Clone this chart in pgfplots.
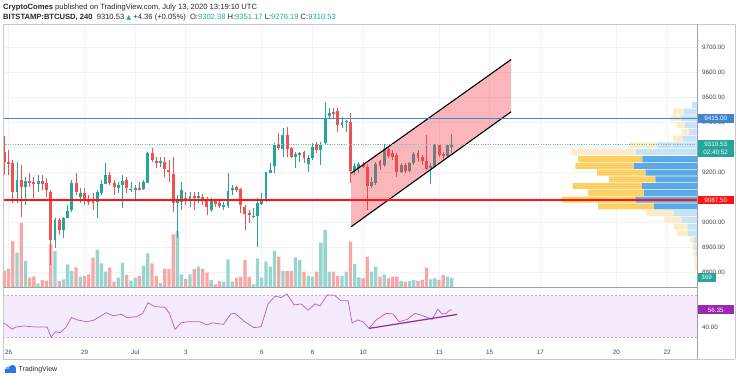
\documentclass[border=0pt]{standalone}
\usepackage{pgfplots}
\pgfplotsset{compat=1.18}
\usepackage{pgfplotstable}
\usepackage{fontspec}
\setmainfont{Liberation Sans}
\newfontfamily\symfont{DejaVu Sans}

\definecolor{upc}{RGB}{38,166,154}
\definecolor{dnc}{RGB}{239,83,80}
\definecolor{upv}{RGB}{152,213,206}
\definecolor{dnv}{RGB}{247,168,166}
\definecolor{vpdb}{RGB}{90,170,234}
\definecolor{vpdy}{RGB}{252,208,98}
\definecolor{vplb}{RGB}{200,226,246}
\definecolor{vply}{RGB}{253,236,202}
\definecolor{blueline}{RGB}{66,133,204}
\definecolor{redline}{RGB}{255,20,20}
\definecolor{gridc}{RGB}{240,242,248}
\definecolor{framec}{RGB}{200,200,204}
\definecolor{axc}{RGB}{160,160,165}
\definecolor{txt}{RGB}{70,70,75}
\definecolor{hdr}{RGB}{40,40,45}
\definecolor{rsil}{RGB}{180,100,205}
\definecolor{rsitrend}{RGB}{140,45,150}
\definecolor{rsiband}{RGB}{244,232,252}
\definecolor{rsidash}{RGB}{200,165,215}
\definecolor{rsibox}{RGB}{156,39,176}
\definecolor{chanfill}{RGB}{242,54,69}
\definecolor{tvblue}{RGB}{41,120,230}
\definecolor{tvlight}{RGB}{120,180,250}
\definecolor{dotc}{RGB}{110,200,190}

\pgfplotstableread{
i O H L C V
1 9281 9345 9188 9241 652
2 9237 9288 9188 9235 720
3 9235 9248 9075 9121 1840
4 9121 9241 9075 9168 1372
5 9168 9228 9021 9141 2560
6 9141 9181 9068 9164 1040
7 9164 9195 9141 9157 372
8 9157 9181 9095 9153 412
9 9153 9188 9121 9164 148
10 9164 9188 9128 9153 280
11 9153 9175 9101 9128 252
12 9121 9128 8828 8928 1708
13 8928 9015 8895 9008 1440
14 9008 9015 8948 8968 240
15 8968 9021 8935 9015 308
16 9017 9068 9015 9041 908
17 9048 9168 9041 9155 640
18 9155 9195 9108 9121 788
19 9101 9135 9075 9115 412
20 9115 9135 9068 9088 440
21 9088 9108 9068 9081 508
22 9084 9115 9048 9079 1172
23 9081 9128 9015 9117 1480
24 9117 9168 9108 9151 948
25 9155 9235 9151 9188 612
26 9188 9199 9148 9159 772
27 9155 9168 9108 9141 212
28 9137 9161 9115 9145 372
29 9151 9188 9057 9164 972
30 9168 9181 9115 9135 480
31 9128 9159 9121 9132 252
32 9132 9148 9088 9135 372
33 9135 9159 9128 9129 440
34 9132 9168 9128 9161 840
35 9159 9281 9155 9275 1348
36 9275 9297 9241 9248 948
37 9241 9261 9215 9235 440
38 9235 9261 9221 9241 160
39 9241 9261 9181 9215 720
40 9205 9248 9161 9199 720
41 9192 9261 9041 9075 2108
42 9079 9108 8935 9084 2240
43 9081 9161 9048 9128 508
44 9097 9121 9068 9092 320
45 9088 9121 9061 9105 508
46 9101 9121 9048 9097 720
47 9097 9121 9075 9103 812
48 9101 9111 9068 9084 720
49 9084 9101 9028 9061 572
50 9048 9095 9041 9081 280
51 9081 9088 9061 9071 108
52 9075 9084 9055 9065 240
53 9061 9081 9048 9068 212
54 9064 9195 9055 9124 1108
55 9128 9148 9108 9135 212
56 9139 9145 9121 9128 372
57 9131 9135 9035 9068 412
58 9061 9068 8968 9035 1080
59 9037 9048 8995 9028 400
60 9021 9055 9015 9024 108
61 9024 9095 8901 9075 1148
62 9075 9115 9068 9084 372
63 9084 9201 9079 9197 1012
64 9197 9235 9195 9208 812
65 9225 9315 9195 9308 1440
66 9308 9355 9288 9297 1212
67 9295 9375 9261 9348 640
68 9348 9381 9261 9295 640
69 9295 9301 9255 9261 640
70 9261 9281 9217 9271 1188
71 9271 9279 9241 9275 1080
72 9279 9284 9235 9257 612
73 9235 9268 9201 9257 440
74 9257 9315 9248 9301 412
75 9311 9321 9275 9288 612
76 9288 9321 9228 9308 1772
77 9315 9479 9308 9415 2280
78 9425 9455 9415 9435 612
79 9441 9455 9415 9435 612
80 9444 9455 9361 9391 440
81 9391 9421 9375 9401 440
82 9401 9408 9361 9404 612
83 9401 9435 9155 9204 1812
84 9204 9235 9188 9221 920
85 9217 9241 9195 9232 388
86 9231 9241 9215 9221 348
87 9221 9231 9048 9145 1212
88 9145 9181 9135 9159 612
89 9155 9241 9148 9231 812
90 9241 9248 9208 9225 412
91 9228 9311 9221 9292 508
92 9292 9301 9255 9265 348
93 9275 9288 9248 9261 412
94 9268 9275 9181 9201 412
95 9201 9235 9195 9225 240
96 9228 9235 9195 9204 212
97 9204 9241 9199 9235 240
98 9235 9281 9228 9271 280
99 9275 9288 9241 9255 240
100 9257 9268 9228 9244 280
101 9244 9348 9208 9212 772
102 9215 9235 9151 9221 308
103 9221 9311 9215 9305 348
104 9305 9308 9261 9268 280
105 9271 9281 9248 9265 480
106 9265 9311 9255 9305 412
107 9302 9351 9276 9311 369
}\candles

\pgfplotstableread{
p lb db ly dy
9468 5 0 0 0
9441 13.3 0 10.7 0
9414 15.7 0 11 0
9387 12.3 0 8.3 0
9360 8 0 7.7 0
9333 14 0 10 0
9306 40 0 27.3 0
9279 61.3 0 64.3 0
9251 0 54.7 0 64.3
9224 0 63 0 58.7
9197 0 51.3 0 48.7
9170 0 41.7 0 46.3
9143 0 55 0 69.3
9116 0 53 0 56
9089 0 61.7 0 73.3
9062 0 43 0 56
9035 23 0 27.7 0
9008 15.7 0 17.3 0
8981 9.7 0 13.3 0
8954 9 0 11 0
8927 3 0 3.7 0
8900 2.3 0 2.3 0
8873 1.3 0 2.7 0
8846 0 0 2.7 0
8819 0 0 2 0
}\vp

\pgfplotstableread{
i r
0.93 43.8
2.82 38
3.77 40
5.67 41
8.27 40
11.12 40
12.07 30.5
13.13 35.5
14.2 34.6
15.62 39.7
16.92 49
18.37 46.7
20.6 45
22.26 46.7
25.1 53.6
26.76 50.8
28.75 52
30.08 49
32.33 49.8
33.77 53
35.05 63
36.71 59.4
39.01 58.8
40.12 53
41.45 37.8
42.87 44
44.53 45
47.37 45
49.03 42
50.22 44
52.94 42.5
54.63 52.4
55.67 53
57.97 45
60.17 39.4
61.83 40.3
63.49 62
65.15 69.5
66.57 68
67.99 71.4
69.65 61
71.31 62
72.97 56
74.63 62
75.81 60
77.47 70.5
79.13 70.5
80.79 65
82.45 65
83.39 44
84.72 46.7
86 45
87.42 38.7
89.08 46.7
91.45 53
93.11 52.4
94.53 45
96.43 47.3
98.32 53
100.34 50.5
102.35 47.3
103.68 56.8
104.72 52.4
105.67 53
106.5 56
107 56.35
}\rsi

\newcommand{\tl}{\fontsize{6.3}{7}\selectfont}

\begin{document}
\begin{tikzpicture}[x=1pt,y=1pt]
\useasboundingbox (0,0) rectangle (736,379);
\fill[white] (0,0) rectangle (736,379);

% ---------- grid + price scale ----------
\begin{axis}[at={(3pt,92pt)}, anchor=south west, width=694pt, height=262pt, scale only axis,
  xmin=0.69, xmax=165.1, ymin=8740, ymax=9788,
  axis line style={draw=none}, major tick length=0pt,
  xtick={2,20,32,44,62,74,86,104,116,128,146,158}, xticklabels={},
  ytick={8800,8900,9000,9100,9200,9300,9400,9500,9600,9700},
  scaled y ticks=false,
  xmajorgrids, ymajorgrids, grid style={draw=gridc, line width=0.7pt},
  yticklabel pos=right, yticklabels={}]
\addplot[draw=none] coordinates {(1,9000)};
\end{axis}
\begin{axis}[at={(3pt,92pt)}, anchor=south west, width=694pt, height=262pt, scale only axis,
  xmin=0.69, xmax=165.1, ymin=8740, ymax=9788,
  axis line style={draw=none}, major tick length=0pt,
  xtick=\empty,
  ytick={8800,8900,9000,9200,9400,9500,9600,9700},
  scaled y ticks=false,
  yticklabel pos=right,
  yticklabel={\pgfmathprintnumber[fixed,fixed zerofill,precision=2,1000 sep={},assume math mode=true]{\tick}},
  yticklabel style={anchor=west, inner sep=0pt, xshift=5pt, font=\tl, text=txt}]
\addplot[draw=none] coordinates {(1,9000)};
\end{axis}

% ---------- volume ----------
\begin{axis}[at={(3pt,92pt)}, anchor=south west, width=694pt, height=262pt, scale only axis,
  xmin=0.69, xmax=165.1, ymin=0, ymax=10480, hide axis, clip=false]
\addplot[ybar, bar width=3.3pt, bar shift=0pt, fill=upv, draw=none,
  restrict expr to domain={\thisrow{C}-\thisrow{O}}{0:100000}] table[x=i,y=V]{\candles};
\addplot[ybar, bar width=3.3pt, bar shift=0pt, fill=dnv, draw=none,
  restrict expr to domain={\thisrow{C}-\thisrow{O}}{-100000:-0.01}] table[x=i,y=V]{\candles};
\node[fill=upc, text=white, font=\tl, inner sep=0pt, minimum width=19pt, minimum height=8.7pt, anchor=west] at (axis cs:165.1,369) {369};
\end{axis}

% ---------- volume profile ----------
\begin{axis}[at={(3pt,92pt)}, anchor=south west, width=694pt, height=262pt, scale only axis,
  x dir=reverse, xmin=0, xmax=694, ymin=8740, ymax=9788, hide axis,
  xbar stacked, bar width=24]
\addplot[fill=vplb, draw=none] table[x=lb,y=p]{\vp};
\addplot[fill=vpdb, draw=none] table[x=db,y=p]{\vp};
\addplot[fill=vply, draw=none] table[x=ly,y=p]{\vp};
\addplot[fill=vpdy, draw=none] table[x=dy,y=p]{\vp};
\end{axis}

% ---------- candles, lines, channel ----------
\begin{axis}[at={(3pt,92pt)}, anchor=south west, width=694pt, height=262pt, scale only axis,
  xmin=0.69, xmax=165.1, ymin=8740, ymax=9788, hide axis, clip=false]
% wicks
\addplot[draw=none, restrict expr to domain={\thisrow{C}-\thisrow{O}}{0:100000},
  error bars/.cd, y dir=both, y explicit, error mark=none, error bar style={draw=upc, line width=0.8pt}]
  table[x=i, y expr={(\thisrow{H}+\thisrow{L})/2}, y error expr={(\thisrow{H}-\thisrow{L})/2}]{\candles};
\addplot[draw=none, restrict expr to domain={\thisrow{C}-\thisrow{O}}{-100000:-0.01},
  error bars/.cd, y dir=both, y explicit, error mark=none, error bar style={draw=dnc, line width=0.8pt}]
  table[x=i, y expr={(\thisrow{H}+\thisrow{L})/2}, y error expr={(\thisrow{H}-\thisrow{L})/2}]{\candles};
% bodies
\addplot[draw=none, restrict expr to domain={\thisrow{C}-\thisrow{O}}{0:100000},
  error bars/.cd, y dir=both, y explicit, error mark=none, error bar style={draw=upc, line width=2.9pt}]
  table[x=i, y expr={(\thisrow{O}+\thisrow{C})/2}, y error expr={abs(\thisrow{C}-\thisrow{O})/2+1}]{\candles};
\addplot[draw=none, restrict expr to domain={\thisrow{C}-\thisrow{O}}{-100000:-0.01},
  error bars/.cd, y dir=both, y explicit, error mark=none, error bar style={draw=dnc, line width=2.9pt}]
  table[x=i, y expr={(\thisrow{O}+\thisrow{C})/2}, y error expr={abs(\thisrow{C}-\thisrow{O})/2+1}]{\candles};
% channel
\addplot[fill=chanfill, fill opacity=0.36, draw=none] coordinates {(83.16,8981) (83.16,9195) (121.07,9650) (121.07,9441) (83.16,8981)};
\addplot[black, line width=1.1pt] coordinates {(83.16,9195) (121.07,9650)};
\addplot[black, line width=1.1pt] coordinates {(83.16,8981) (121.07,9441)};
% horizontal levels
\addplot[blueline, line width=1.3pt] coordinates {(0.69,9415) (165.1,9415)};
\addplot[redline, line width=1.3pt] coordinates {(0.69,9087.5) (165.1,9087.5)};
\addplot[dotc, line width=0.6pt, dash pattern=on 1.2pt off 1.2pt] coordinates {(0.69,9310.53) (165.1,9310.53)};
% price labels
\node[fill=blueline, text=white, font=\tl, inner sep=0pt, minimum width=37pt, minimum height=8.7pt, anchor=west] at (axis cs:165.1,9415) {9415.00};
\node[fill=upc, text=white, font=\tl, inner sep=0pt, minimum width=37pt, minimum height=8.4pt, anchor=west] at (axis cs:165.1,9310.53) {9310.53};
\node[fill=upc, text=white, font=\tl, inner sep=0pt, minimum width=37pt, minimum height=8.4pt, anchor=west] at (axis cs:165.1,9277) {02:40:52};
\node[fill=redline, text=white, font=\tl, inner sep=0pt, minimum width=37pt, minimum height=8.7pt, anchor=west] at (axis cs:165.1,9087.5) {9087.50};
\end{axis}

% ---------- RSI ----------
\begin{axis}[at={(3pt,36pt)}, anchor=south west, width=694pt, height=56pt, scale only axis,
  xmin=0.69, xmax=165.1, ymin=24.8, ymax=78.1, clip=false,
  axis line style={draw=none}, major tick length=0pt,
  xtick={2,20,32,44,62,74,86,104,116,128,146,158},
  xticklabels={26,29,Jul,3,6,8,10,13,15,17,20,22},
  xticklabel style={anchor=center, inner sep=0pt, yshift=-9pt, font=\tl, text=txt},
  xmajorgrids, grid style={draw=gridc, line width=0.7pt},
  ytick={40}, yticklabel pos=right,
  yticklabel={\pgfmathprintnumber[fixed,fixed zerofill,precision=2,assume math mode=true]{\tick}},
  yticklabel style={anchor=west, inner sep=0pt, xshift=5pt, font=\tl, text=txt}]
\addplot[fill=rsiband, fill opacity=0.85, draw=none] coordinates {(0.69,30) (165.1,30) (165.1,70) (0.69,70) (0.69,30)};
\addplot[rsidash, line width=0.6pt, dash pattern=on 2pt off 2pt] coordinates {(0.69,70) (165.1,70)};
\addplot[rsidash, line width=0.6pt, dash pattern=on 2pt off 2pt] coordinates {(0.69,30) (165.1,30)};
\addplot[rsil, line width=0.75pt] table[x=i,y=r]{\rsi};
\addplot[rsitrend, line width=1.2pt] coordinates {(87.42,38.7) (108.3,52)};
\node[fill=rsibox, text=white, font=\tl, inner sep=0pt, minimum width=37pt, minimum height=8.7pt, anchor=west] at (axis cs:165.1,56.35) {56.35};
\end{axis}

% ---------- frame ----------
\draw[framec, line width=0.6pt] (3,355) -- (735,355);
\draw[framec, line width=0.6pt] (3,20) -- (735,20);
\draw[framec, line width=0.6pt] (3,20) -- (3,355);
\draw[framec, line width=0.6pt] (735,20) -- (735,355);
\draw[axc, line width=0.8pt] (697,20) -- (697,355);
\draw[axc, line width=0.8pt] (3,92) -- (697,92);

% ---------- header ----------
\node[anchor=base west, inner sep=0pt, font=\fontsize{7.6}{8}\selectfont, text=hdr] at (3,369.5)
 {\textbf{CryptoComes} published on TradingView.com, July 13, 2020 13:19:10 UTC};
\node[anchor=base west, inner sep=0pt, font=\fontsize{7.6}{8}\selectfont, text=hdr] at (3,359.5)
 {\textbf{BITSTAMP:BTCUSD, 240}\ \ 9310.53 {\color{upc}\symfont\fontsize{6.4}{7}\selectfont ▲} +4.36 (+0.05\%)\ \ O:{\color{upc}9302.38} H:{\color{upc}9351.17} L:{\color{upc}9276.19} C:{\color{upc}9310.53}};

% ---------- footer ----------
\fill[tvlight] (8.5,9.5) circle (3.2);
\fill[tvblue] (12.5,10.5) circle (3.6);
\fill[tvblue] (5,6.2) rectangle (16.1,9.5);
\node[anchor=base west, inner sep=0pt, font=\fontsize{7}{8}\selectfont, text=hdr] at (18.5,7) {TradingView};
\end{tikzpicture}
\end{document}
